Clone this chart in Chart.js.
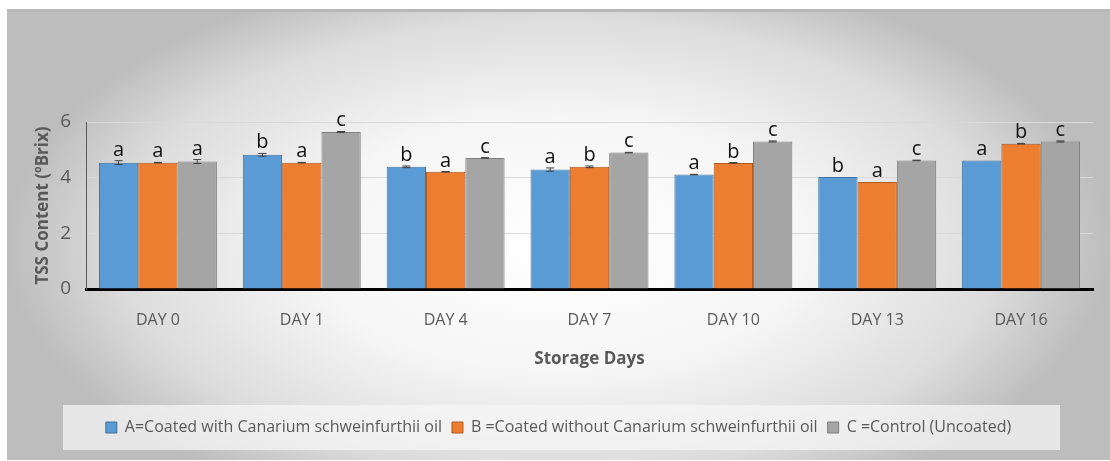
<!DOCTYPE html>
<html>
<head>
<meta charset="utf-8">
<script src="https://cdn.jsdelivr.net/npm/chart.js@4/dist/chart.umd.min.js"></script>
<style>
  html, body { margin: 0; padding: 0; background: #ffffff; }
  #wrap { width: 1110px; height: 461px; position: relative; }
</style>
</head>
<body>
<div id="wrap"><canvas id="tss"></canvas></div>
<script>
// Storage days on the x axis
const categories = ['DAY 0', 'DAY 1', 'DAY 4', 'DAY 7', 'DAY 10', 'DAY 13', 'DAY 16'];

// Series labels
const seriesNames = [
  'A=Coated with Canarium schweinfurthii oil',
  'B =Coated without Canarium schweinfurthii oil',
  'C =Control (Uncoated)'
];

// Mean TSS content (ºBrix)
const coatedWithOil = [4.54, 4.82, 4.39, 4.29, 4.11, 4.02, 4.62];
const coatedWithoutOil = [4.54, 4.54, 4.21, 4.39, 4.53, 3.84, 5.22];
const controlUncoated = [4.58, 5.64, 4.71, 4.90, 5.30, 4.62, 5.30];

// Standard errors
const errWithOil = [0.07, 0.05, 0.03, 0.06, 0.01, 0.00, 0.00];
const errWithoutOil = [0.01, 0.01, 0.01, 0.03, 0.01, 0.00, 0.01];
const errControl = [0.07, 0.02, 0.01, 0.01, 0.02, 0.01, 0.02];

// Significance letters
const lettersWithOil = ['a', 'b', 'b', 'a', 'a', 'b', 'a'];
const lettersWithoutOil = ['a', 'a', 'a', 'b', 'b', 'a', 'b'];
const lettersControl = ['a', 'c', 'c', 'c', 'c', 'c', 'c'];

// Y axis ticks
const yTicks = [0, 2, 4, 6];

const FONT = "'Open Sans', 'Noto Sans', sans-serif";

// Radial grey backdrop behind the whole chart
const backdrop = {
  id: 'backdrop',
  beforeDraw(chart) {
    const ctx = chart.ctx;
    const x0 = 7, y0 = 9, x1 = chart.width, y1 = 460;
    const cx = (x0 + x1) / 2, cy = (y0 + y1) / 2 + 10;
    const rx = (x1 - x0) / 2, ry = (y1 - y0) / 2 + 60;
    ctx.save();
    ctx.fillStyle = '#ffffff';
    ctx.fillRect(0, 0, chart.width, chart.height);
    ctx.beginPath();
    ctx.rect(x0, y0, x1 - x0, y1 - y0);
    ctx.clip();
    ctx.translate(cx, cy);
    ctx.scale(1, ry / rx);
    const g = ctx.createRadialGradient(0, 0, 0, 0, 0, rx);
    g.addColorStop(0, '#ffffff');
    g.addColorStop(0.45, '#f6f6f6');
    g.addColorStop(0.8, '#dcdcdc');
    g.addColorStop(1, '#bdbdbd');
    ctx.fillStyle = g;
    ctx.fillRect(-rx - 10, -rx * 2, rx * 2 + 20, rx * 4);
    ctx.restore();
    // top edge line
    ctx.save();
    ctx.fillStyle = '#b8b8b8';
    ctx.fillRect(x0, y0, x1 - x0, 3);
    ctx.restore();
    // legend panel
    const lg = chart.legend;
    if (lg) {
      const mid = lg.top + lg.height / 2;
      ctx.save();
      ctx.fillStyle = 'rgba(245,245,245,0.75)';
      ctx.fillRect(63, mid - 22.5, 1060 - 63, 45);
      ctx.restore();
    }
  }
};

// Error bars and significance letters above each bar
const annotate = {
  id: 'annotate',
  afterDatasetsDraw(chart) {
    const ctx = chart.ctx;
    const y = chart.scales.y;
    ctx.save();
    chart.data.datasets.forEach((ds, di) => {
      const meta = chart.getDatasetMeta(di);
      meta.data.forEach((bar, i) => {
        const v = ds.data[i];
        const e = ds.errors[i];
        const yTop = y.getPixelForValue(v + e);
        const yBot = y.getPixelForValue(v - e);
        if (e > 0) {
          ctx.strokeStyle = '#404040';
          ctx.lineWidth = 1;
          ctx.beginPath();
          ctx.moveTo(bar.x, yTop); ctx.lineTo(bar.x, yBot);
          ctx.moveTo(bar.x - 4, yTop); ctx.lineTo(bar.x + 4, yTop);
          ctx.moveTo(bar.x - 4, yBot); ctx.lineTo(bar.x + 4, yBot);
          ctx.stroke();
        }
        ctx.fillStyle = '#111111';
        ctx.font = '20px ' + FONT;
        ctx.textAlign = 'center';
        ctx.textBaseline = 'alphabetic';
        ctx.fillText(ds.letters[i], bar.x, yTop - 5);
      });
    });
    ctx.restore();
  }
};

new Chart(document.getElementById('tss'), {
  type: 'bar',
  data: {
    labels: categories,
    datasets: [
      { label: seriesNames[0], data: coatedWithOil, errors: errWithOil, letters: lettersWithOil,
        backgroundColor: '#5b9bd5', borderColor: '#41719c', borderWidth: 1 },
      { label: seriesNames[1], data: coatedWithoutOil, errors: errWithoutOil, letters: lettersWithoutOil,
        backgroundColor: '#ed7d31', borderColor: '#ae5a21', borderWidth: 1 },
      { label: seriesNames[2], data: controlUncoated, errors: errControl, letters: lettersControl,
        backgroundColor: '#a5a5a5', borderColor: '#7f7f7f', borderWidth: 1 }
    ]
  },
  options: {
    responsive: true,
    maintainAspectRatio: false,
    animation: false,
    devicePixelRatio: 1,
    layout: { padding: { left: 24, right: 17, top: 122, bottom: 15.5 } },
    datasets: { bar: { categoryPercentage: 0.82, barPercentage: 1.0 } },
    plugins: {
      tooltip: { enabled: false },
      legend: {
        position: 'bottom',
        labels: {
          boxWidth: 11, boxHeight: 11, padding: 10,
          color: '#595959',
          font: { family: FONT, size: 16 }
        }
      }
    },
    scales: {
      x: {
        grid: { display: false, drawTicks: false },
        border: { color: '#000000', width: 3 },
        ticks: { color: '#595959', padding: 22, font: { family: FONT, size: 16 } },
        title: {
          display: true, text: 'Storage Days', color: '#595959',
          font: { family: FONT, size: 17, weight: 'bold' },
          padding: { bottom: 40 }
        },
        afterFit(scale) { scale.height = 120.5; }
      },
      y: {
        min: 0, max: 6,
        afterBuildTicks(scale) { scale.ticks = yTicks.map(v => ({ value: v })); },
        grid: { color: '#d9d9d9', drawTicks: false },
        border: { color: '#595959', width: 1 },
        ticks: { color: '#595959', padding: 15, font: { family: FONT, size: 19 } },
        title: {
          display: true, text: 'TSS Content (ºBrix)', color: '#595959',
          font: { family: FONT, size: 17, weight: 'bold' },
          padding: { top: 9 }
        },
        afterFit(scale) { scale.width = 62; }
      }
    }
  },
  plugins: [backdrop, annotate]
});
</script>
</body>
</html>
